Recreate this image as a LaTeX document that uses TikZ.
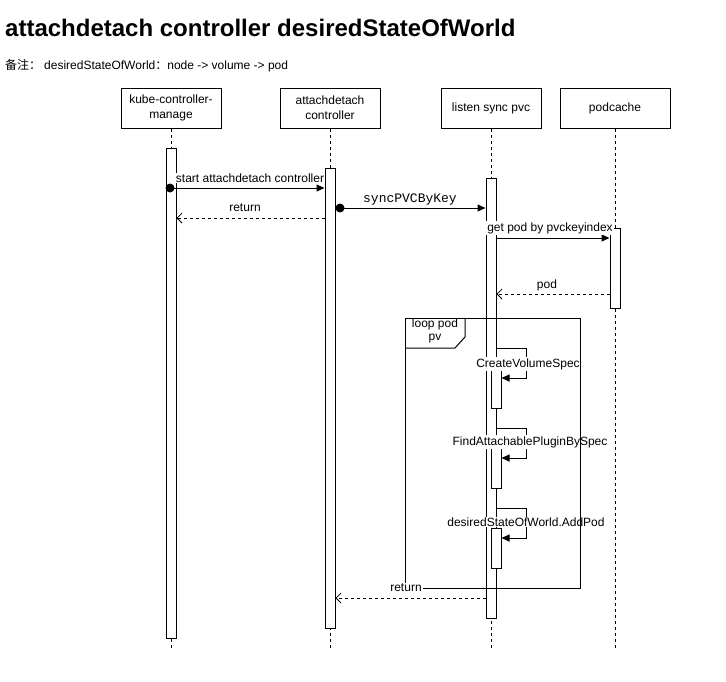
\documentclass[tikz,border=0pt]{standalone}
\usepackage{fontspec}
\setmainfont{Liberation Sans}
\newfontfamily\cjk{Noto Sans CJK SC}
\newfontfamily\monof{Liberation Mono}
\usetikzlibrary{arrows.meta}
\newcommand{\fs}{\fontsize{12}{15}\selectfont}
\tikzset{
  lbox/.style={draw, fill=white, minimum width=100pt, minimum height=40pt, align=center, font=\fs, inner sep=2pt, line width=1pt},
  act/.style={draw, fill=white, minimum width=10pt, inner sep=0pt, line width=1pt},
  life/.style={line width=1pt, dash pattern=on 3pt off 3pt},
  msg/.style={line width=1pt, -{Triangle[length=8pt,width=7pt]}},
  ret/.style={line width=1pt, dash pattern=on 3pt off 3pt, -{Straight Barb[length=5pt,width=10pt,line width=0.8pt]}},
  selfm/.style={line width=1pt, -{Triangle[length=8pt,width=7pt]}},
  lbl/.style={font=\fs, fill=white, inner sep=1pt},
  dotn/.style={circle, fill=black, inner sep=0pt, minimum size=9pt},
}
\begin{document}
\begin{tikzpicture}[x=1pt,y=-1pt]
\useasboundingbox[fill=white] (0,0) rectangle (726,681);

% title
\node[anchor=west, inner sep=0pt, font=\bfseries\fontsize{24}{28}\selectfont] (title) at (5,28) {attachdetach controller desiredStateOfWorld};
\node[anchor=west, inner sep=0pt, font=\fontsize{12}{14}\selectfont] (note) at (5,66) {{\cjk 备注：}\hspace{3pt}desiredStateOfWorld{\cjk ：}node -> volume -> pod};

% participants
\node[lbox] (kube) at (171,108) {kube-controller-\\manage};
\node[lbox] (ad) at (330,108) {attachdetach\\controller};
\node[lbox] (pvc) at (491,108) {listen sync pvc};
\node[lbox, minimum width=110pt] (pc) at (615,108) {podcache};

\coordinate (kubeend) at (171,648);
\coordinate (adend) at (330,648);
\coordinate (pvcend) at (491,648);
\coordinate (pcend) at (615,648);

\draw[life] (kube.south) -- (kubeend);
\draw[life] (ad.south) -- (adend);
\draw[life] (pvc.south) -- (pvcend);
\draw[life] (pc.south) -- (pcend);

% activations
\node[act, minimum height=490pt] (kubeact) at (171,393) {};
\node[act, minimum height=460pt] (adact) at (330,398) {};
\node[act, minimum height=440pt] (pvcact) at (491,398) {};
\node[act, minimum height=80pt] (pcact) at (615,268) {};
\node[act, minimum height=40pt] (n1) at (496,388) {};
\node[act, minimum height=40pt] (n2) at (496,468) {};
\node[act, minimum height=40pt] (n3) at (496,548) {};

% message 1
\node[dotn] (d1) at (170,188) {};
\draw[msg] (d1.center) -- (adact.west |- d1.center);
\node[lbl] (l1) at (250,178) {start attachdetach controller};

% return 1
\coordinate (r1) at (0,218);
\draw[ret] (adact.west |- r1) -- (kubeact.east |- r1);
\node[lbl] (l2) at (245,208) {return};

% message syncPVCByKey
\node[dotn] (d2) at (340,208) {};
\draw[msg] (d2.center) -- (pvcact.west |- d2.center);
\node[font=\monof\fontsize{13}{15}\selectfont, inner sep=1pt] (l3) at (410,199) {syncPVCByKey};

% get pod
\coordinate (g1) at (0,238);
\draw[msg] (pvcact.east |- g1) -- (pcact.west |- g1);
\node[lbl] (l4) at (550,228) {get pod by pvckeyindex};

% pod return
\coordinate (p1) at (0,294);
\draw[ret] (pcact.west |- p1) -- (pvcact.east |- p1);
\node[lbl] (l5) at (547,285) {pod};

% self calls
\coordinate (s1) at (0,348);
\coordinate (s1e) at (0,378);
\draw[selfm] (pvcact.east |- s1) -- (526,348) -- (526,378) -- (n1.east |- s1e);
\node[lbl] (l6) at (528,364) {CreateVolumeSpec};

\coordinate (s2) at (0,428);
\coordinate (s2e) at (0,458);
\draw[selfm] (pvcact.east |- s2) -- (526,428) -- (526,458) -- (n2.east |- s2e);
\node[lbl] (l7) at (530,442) {FindAttachablePluginBySpec};

\coordinate (s3) at (0,508);
\coordinate (s3e) at (0,538);
\draw[selfm] (pvcact.east |- s3) -- (526,508) -- (526,538) -- (n3.east |- s3e);
\node[lbl] (l8) at (526,522) {desiredStateOfWorld.AddPod};

% loop frame (drawn over activations and labels)
\node[draw, line width=1pt, minimum width=175pt, minimum height=270pt, anchor=north west, inner sep=0pt] (loop) at (405,318) {};
\draw[line width=1pt] (loop.north west) ++(0,30) -- ++(50,0) -- ++(10,-11) -- ++(0,-19);
\node[align=center, inner sep=0pt, font=\fontsize{12}{13}\selectfont] (looplbl) at (435,331) {loop pod\\pv};

% final return
\coordinate (r2) at (0,598);
\draw[ret] (pvcact.west |- r2) -- (adact.east |- r2);
\node[lbl] (l9) at (406,588) {return};

\end{tikzpicture}
\end{document}
